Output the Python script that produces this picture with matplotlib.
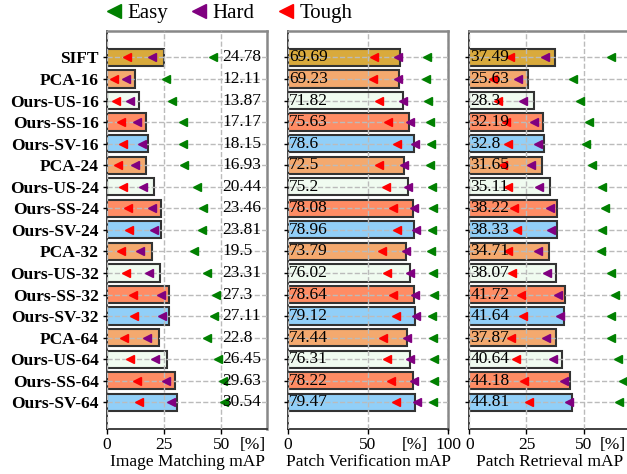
import matplotlib
matplotlib.use("Agg")
import matplotlib.pyplot as plt
from matplotlib.lines import Line2D

plt.rcParams['font.family'] = ['Liberation Serif', 'DejaVu Serif']

methods = ["SIFT", "PCA-16", "Ours-US-16", "Ours-SS-16", "Ours-SV-16",
           "PCA-24", "Ours-US-24", "Ours-SS-24", "Ours-SV-24",
           "PCA-32", "Ours-US-32", "Ours-SS-32", "Ours-SV-32",
           "PCA-64", "Ours-US-64", "Ours-SS-64", "Ours-SV-64"]

# Image matching mAP
im_mean = [24.78, 12.11, 13.87, 17.17, 18.15, 16.93, 20.44, 23.46, 23.81,
           19.5, 23.31, 27.3, 27.11, 22.8, 26.45, 29.63, 30.54]
im_easy = [46.4, 25.6, 28.5, 33.2, 33.2, 33.7, 39.4, 42.0, 41.6,
           38.0, 43.8, 47.9, 46.7, 43.8, 48.7, 50.8, 51.1]
im_hard = [19.9, 8.2, 10.0, 13.0, 15.1, 12.2, 15.8, 19.6, 20.5,
           14.5, 18.5, 23.6, 24.0, 17.7, 21.2, 26.0, 27.8]
im_tough = [8.9, 3.2, 3.9, 6.0, 6.8, 4.9, 7.1, 9.0, 9.7,
            6.1, 8.3, 11.5, 11.8, 7.6, 10.0, 13.0, 14.0]

# Patch verification mAP
pv_mean = [69.69, 69.23, 71.82, 75.63, 78.6, 72.5, 75.2, 78.08, 78.96,
           73.79, 76.02, 78.64, 79.12, 74.44, 76.31, 78.22, 79.47]
pv_easy = [86.7, 86.0, 87.3, 88.75, 89.2, 88.75, 90.2, 90.4, 89.8,
           89.4, 90.8, 91.25, 90.2, 90.4, 91.25, 91.5, 90.8]
pv_hard = [68.5, 68.9, 71.7, 76.3, 79.4, 72.5, 75.2, 78.75, 80.0,
           73.75, 76.25, 79.4, 80.0, 74.2, 76.25, 78.75, 80.4]
pv_tough = [53.9, 53.3, 56.9, 62.3, 68.3, 56.9, 61.0, 65.4, 67.9,
            58.5, 61.7, 65.8, 67.5, 59.2, 62.1, 64.4, 67.3]

# Patch retrieval mAP
pr_mean = [37.49, 25.63, 28.3, 32.19, 32.8, 31.65, 35.11, 38.22, 38.33,
           34.71, 38.07, 41.72, 41.64, 37.87, 40.64, 44.18, 44.81]
pr_easy = [62.0, 45.3, 48.6, 52.5, 51.0, 53.7, 58.1, 59.5, 58.1,
           57.6, 62.0, 63.9, 62.0, 62.0, 64.9, 67.1, 65.4]
pr_hard = [33.2, 21.1, 23.7, 28.4, 30.0, 26.9, 30.6, 35.1, 35.8,
           30.0, 33.9, 38.8, 39.5, 33.5, 36.6, 41.5, 43.4]
pr_tough = [17.9, 10.5, 12.7, 16.1, 17.1, 14.6, 16.8, 19.6, 20.8,
            16.8, 18.6, 22.5, 23.3, 18.2, 20.3, 24.1, 25.9]

group_colors = {"SIFT": "#D9AA3C", "PCA": "#F4A96E", "Ours-US": "#F0FBF0",
                "Ours-SS": "#FF8C64", "Ours-SV": "#91CFF8"}

def color_of(m):
    if m == "SIFT":
        return group_colors["SIFT"]
    if m.startswith("PCA"):
        return group_colors["PCA"]
    return group_colors[m.rsplit("-", 1)[0]]

bar_colors = [color_of(m) for m in methods]

W, H = 627, 474
fig = plt.figure(figsize=(W / 100, H / 100), dpi=100)

ax_w = 160 / W
ax_b = 1 - 429 / H
ax_h = (429 - 30.7) / H
lefts = [107 / W, 288 / W, 469.3 / W]

panels = [
    dict(mean=im_mean, easy=im_easy, hard=im_hard, tough=im_tough,
         xlim=(0, 70), ticks=[0, 25, 50], label="Image Matching mAP", pct=0.91, inside=False),
    dict(mean=pv_mean, easy=pv_easy, hard=pv_hard, tough=pv_tough,
         xlim=(0, 100), ticks=[0, 50, 100], label="Patch Verification mAP", pct=0.79, inside=True),
    dict(mean=pr_mean, easy=pr_easy, hard=pr_hard, tough=pr_tough,
         xlim=(0, 70), ticks=[0, 25, 50], label="Patch Retrieval mAP", pct=0.895, inside=True),
]

ypos = list(range(len(methods)))
fs = 12.5
for i, p in enumerate(panels):
    ax = fig.add_axes([lefts[i], ax_b, ax_w, ax_h])
    ax.barh(ypos, p["mean"], height=0.8, color=bar_colors, edgecolor="#333333",
            linewidth=1.5, zorder=1)
    ax.plot(p["easy"], ypos, linestyle="none", marker="<", ms=5.8, color="green", zorder=4, clip_on=False)
    ax.plot(p["hard"], ypos, linestyle="none", marker="<", ms=5.8, color="purple", zorder=4)
    ax.plot(p["tough"], ypos, linestyle="none", marker="<", ms=5.8, color="red", zorder=4)
    ax.set_xlim(*p["xlim"])
    ax.set_ylim(len(methods) - 1 + 1.24, -1.24)
    ax.set_xticks(p["ticks"])
    ax.set_yticks(ypos)
    if i == 0:
        ax.set_yticklabels(methods, fontweight="bold", fontsize=fs)
    else:
        ax.set_yticklabels([])
    ax.tick_params(axis="x", labelsize=fs, length=3.5, pad=2, width=1)
    ax.tick_params(axis="y", length=3, pad=3, width=1)
    ax.grid(True, linestyle="--", color="#BBBBBB", linewidth=1.0, zorder=2)
    ax.set_axisbelow(False)
    for s in ["left", "bottom"]:
        ax.spines[s].set_color("#333333")
        ax.spines[s].set_linewidth(1.3)
    for s in ["top", "right"]:
        ax.spines[s].set_color("#888888")
        ax.spines[s].set_linewidth(1.8)
    ax.set_xlabel(p["label"], fontsize=fs, labelpad=1)
    ax.annotate("[%]", xy=(p["pct"], 0), xycoords="axes fraction",
                xytext=(0, -5.5), textcoords="offset points", ha="center", va="top",
                fontsize=fs)
    for y, v in zip(ypos, p["mean"]):
        if p["inside"]:
            ax.text(p["xlim"][1] * 0.006, y, f"{v}", ha="left", va="center",
                    fontsize=fs, zorder=5)
        else:
            ax.text(50.5, y, f"{v}", ha="left", va="center", fontsize=fs, zorder=5)

handles = [Line2D([], [], linestyle="none", marker="<", ms=10, color=c, label=l)
           for c, l in [("green", "Easy"), ("purple", "Hard"), ("red", "Tough")]]
fig.legend(handles=handles, loc="center", bbox_to_anchor=(228 / W, 1 - 13.5 / H),
           ncol=3, frameon=False, fontsize=15, handletextpad=0.15, columnspacing=1.0,
           handlelength=1.0, borderpad=0)

fig.savefig("out.png", dpi=100)
